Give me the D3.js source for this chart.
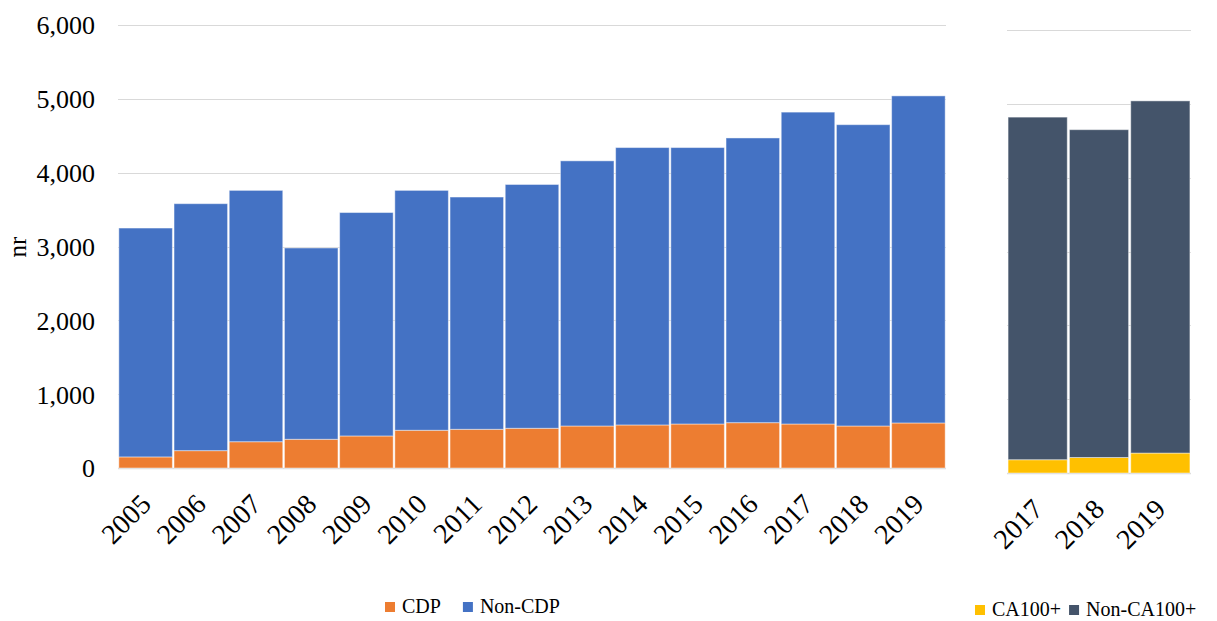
<!DOCTYPE html>
<html>
<head>
<meta charset="utf-8">
<script src="https://cdn.jsdelivr.net/npm/d3@7"></script>
<style>
  html, body { margin: 0; padding: 0; background: #fff; }
  svg { display: block; }
  text { font-family: "Liberation Serif", "Times New Roman", serif; fill: #000; }
</style>
</head>
<body>
<svg id="chart" width="1217" height="621"></svg>
<script>
// ---- data ----
const years = ["2005","2006","2007","2008","2009","2010","2011","2012","2013","2014","2015","2016","2017","2018","2019"];
const cdp    = [150, 235, 356, 389, 434, 511, 524, 538, 569, 583, 596, 614, 596, 569, 610];
const nonCdp = [3100, 3345, 3404, 2591, 3026, 3249, 3146, 3302, 3591, 3757, 3744, 3856, 4224, 4081, 4430];

const years2    = ["2017","2018","2019"];
const ca100     = [180, 210, 270];
const nonCa100  = [4640, 4440, 4770];

const yTicks = [0, 1000, 2000, 3000, 4000, 5000, 6000];
const yLabel = "nr";

const colCdp = "#ED7D31", colNonCdp = "#4472C4";
const colCa = "#FFC000", colNonCa = "#44546A";

const svg = d3.select("#chart");
const fmt = d3.format(",");

function panel(opts) {
  const { cats, s1, s2, k1, k2, c1, c2, x0, x1, yBottom, yTop, labelY, pad } = opts;
  const rows = cats.map((c, i) => ({ cat: c, [k1]: s1[i], [k2]: s2[i] }));
  const stack = d3.stack().keys([k1, k2])(rows);
  const x = d3.scaleBand().domain(cats).range([x0, x1]).paddingInner(pad).paddingOuter(pad / 2);
  const y = d3.scaleLinear().domain([0, 6000]).range([yBottom, yTop]);
  const g = svg.append("g");
  // gridlines
  g.selectAll("line.grid").data(yTicks).join("line")
    .attr("x1", x0).attr("x2", x1)
    .attr("y1", d => Math.round(y(d)) + 0.5).attr("y2", d => Math.round(y(d)) + 0.5)
    .attr("stroke", "#D9D9D9").attr("stroke-width", d => d === 0 ? 1.6 : 1);
  const colors = { [k1]: c1, [k2]: c2 };
  g.selectAll("g.series").data(stack).join("g")
    .attr("fill", d => colors[d.key])
    .selectAll("rect").data(d => d).join("rect")
    .attr("x", d => x(d.data.cat))
    .attr("width", x.bandwidth())
    .attr("y", d => y(d[1]))
    .attr("height", d => y(d[0]) - y(d[1]))
    .attr("stroke", "#ffffff").attr("stroke-opacity", 0.45).attr("stroke-width", 1);
  // x labels
  g.selectAll("text.xl").data(cats).join("text")
    .attr("transform", d => `translate(${x(d) + x.bandwidth() / 2},${labelY}) rotate(-45)`)
    .attr("text-anchor", "end").attr("dy", "0.35em")
    .style("font-size", "28px")
    .text(d => d);
  return { x, y };
}

const left = panel({ cats: years, s1: cdp, s2: nonCdp, k1: "CDP", k2: "Non-CDP", c1: colCdp, c2: colNonCdp,
  x0: 118, x1: 946, yBottom: 468, yTop: 25, labelY: 499, pad: 0.03 });
const right = panel({ cats: years2, s1: ca100, s2: nonCa100, k1: "CA100+", k2: "Non-CA100+", c1: colCa, c2: colNonCa,
  x0: 1007, x1: 1191, yBottom: 473, yTop: 30, labelY: 504, pad: 0.035 });

// left y axis labels
const yAx = svg.append("g").attr("transform", "translate(95,0)")
  .call(d3.axisLeft(left.y).tickValues(yTicks).tickFormat(fmt).tickSize(0).tickPadding(0));
yAx.select(".domain").remove();
yAx.selectAll("text").style("font-size", "26px").attr("font-family", null).attr("dy", "0.34em").attr("fill", "#000");

svg.append("text").attr("transform", "translate(26,247) rotate(-90)")
  .attr("text-anchor", "middle").style("font-size", "25px").text(yLabel);

// legends
function legend(items, x, ySq, yText) {
  const g = svg.append("g");
  let cx = x;
  items.forEach(it => {
    g.append("rect").attr("x", cx).attr("y", ySq).attr("width", 10).attr("height", 10).attr("fill", it.c);
    const t = g.append("text").attr("x", cx + 17).attr("y", yText).style("font-size", "20px").text(it.t);
    cx += 17 + t.node().getComputedTextLength() + it.gap;
  });
}
legend([{ c: colCdp, t: "CDP", gap: 22 }, { c: colNonCdp, t: "Non-CDP", gap: 0 }], 385, 602, 613);
legend([{ c: colCa, t: "CA100+", gap: 8 }, { c: colNonCa, t: "Non-CA100+", gap: 0 }], 975, 605, 616);
</script>
</body>
</html>
